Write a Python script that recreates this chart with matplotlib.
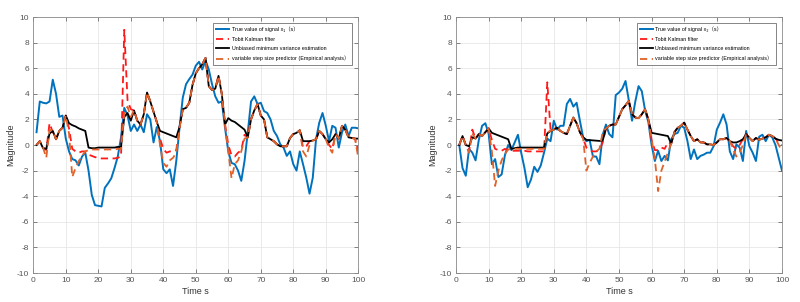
import matplotlib
matplotlib.use("Agg")
import matplotlib.pyplot as plt
import numpy as np

# signal x1 (left panel)
x1_true = [1.0, 3.4, 3.3, 3.25, 3.4, 5.1, 4.0, 2.2, 2.3, 0.5,
           -0.5, -1.1, -1.2, -1.6, -0.9, -0.6, -2.0, -3.9, -4.7, -4.75,
           -4.8, -3.35, -3.0, -2.6, -1.8, -0.9, 0.6, 2.9, 2.3, 1.1,
           1.6, 1.1, 1.6, 1.0, 2.4, 2.0, 0.2, 1.4, 0.3, -1.9,
           -2.2, -1.9, -3.2, -1.25, 1.35, 3.7, 4.75, 5.15, 5.5, 6.2,
           6.5, 5.9, 6.6, 5.9, 4.75, 3.8, 3.3, 3.4, 1.35, -0.5,
           -1.4, -1.5, -2.0, -2.8, -1.25, 1.0, 3.4, 3.8, 3.2, 3.3,
           2.65, 2.5, 2.0, 1.1, 0.7, 0.05, -0.2, -0.85, -0.5, -1.5,
           -2.0, -0.5, -1.5, -2.55, -3.8, -2.55, 0.45, 1.75, 2.5, 1.5,
           0.3, 1.5, 1.35, -0.2, 1.0, 1.6, 0.7, 1.35, 1.35, 1.3]
x1_tobit = [0.0, 0.3, -0.2, -0.4, 1.7, 1.0, 0.45, 1.1, 1.35, 2.3,
            1.3, -0.3, -0.5, -0.6, -0.5, -0.5, -0.75, -0.85, -0.95, -1.0,
            -1.05, -1.05, -1.05, -1.05, -1.05, -1.0, -0.9, 9.0, 3.5, 2.8,
            2.7, 1.9, 1.6, 2.4, 4.1, 3.4, 2.6, 1.8, 0.5, -0.3,
            -0.6, -0.5, -0.5, -0.4, 1.4, 2.8, 2.9, 3.3, 4.7, 5.6,
            6.0, 6.3, 6.8, 4.6, 4.3, 4.4, 5.4, 4.0, 1.6, 0.0,
            -0.8, -0.9, -0.6, -0.4, 0.8, 0.6, 2.0, 2.7, 3.2, 2.3,
            2.0, 0.6, 0.45, 0.3, 0.05, -0.1, -0.1, -0.1, 0.55, 0.85,
            0.95, 1.15, -0.2, -0.1, 0.3, 0.35, 0.45, 1.1, 0.85, 0.45,
            0.0, -0.3, 0.85, 0.5, 1.5, 1.2, 0.6, 0.55, 0.5, -0.5]
x1_umv = [0.0, 0.3, -0.25, -0.3, 0.9, 1.1, 0.45, 1.1, 1.35, 2.3,
          1.7, 1.55, 1.45, 1.3, 1.2, 1.1, -0.2, -0.25, -0.25, -0.2,
          -0.2, -0.2, -0.2, -0.2, -0.2, -0.15, -0.15, 2.2, 2.5, 1.9,
          2.7, 1.9, 1.6, 2.4, 4.1, 3.4, 2.6, 1.8, 1.1, 1.0,
          0.9, 0.8, 0.7, 0.6, 1.4, 2.8, 2.9, 3.3, 4.7, 5.6,
          6.0, 6.3, 6.8, 4.6, 4.3, 4.4, 5.4, 4.0, 1.6, 2.1,
          1.9, 1.8, 1.6, 1.4, 1.2, 0.6, 2.0, 2.7, 3.2, 2.3,
          2.0, 0.6, 0.45, 0.3, 0.05, -0.1, -0.1, -0.1, 0.55, 0.85,
          0.95, 1.15, 0.3, 0.3, 0.3, 0.35, 0.45, 1.1, 0.85, 0.45,
          0.2, 0.45, 0.85, 0.5, 1.5, 1.2, 0.6, 0.55, 0.5, 0.5]
x1_vss = [0.0, 0.3, -0.2, -1.0, 1.2, 1.1, 0.45, 1.1, 1.35, 2.3,
          0.9, -2.5, -1.8, -1.25, -0.85, -0.5, -0.4, -0.35, -0.35, -0.35,
          -0.35, -0.35, -0.35, -0.35, -0.35, -0.3, -0.3, 2.5, 3.0, 2.2,
          2.7, 1.9, 1.6, 2.4, 4.1, 3.4, 2.6, 1.8, 0.0, -1.4,
          -1.7, -1.2, -1.0, -0.6, 1.3, 2.8, 2.9, 3.3, 4.7, 5.6,
          6.0, 6.3, 6.8, 4.6, 4.3, 4.4, 5.4, 4.0, 1.6, -0.5,
          -2.6, -1.5, -1.2, -0.5, 0.5, 0.6, 2.0, 2.7, 3.2, 2.3,
          2.0, 0.6, 0.45, 0.3, 0.05, -0.1, -0.1, -0.1, 0.55, 0.85,
          0.95, 1.15, -0.5, -0.9, 0.0, 0.35, 0.45, 1.1, 0.85, 0.45,
          -0.2, -0.6, 0.85, 0.5, 1.5, 1.2, 0.6, 0.55, 0.5, -1.0]

# signal x2 (right panel)
x2_true = [0.0, -1.8, -2.4, -0.3, -0.6, -1.2, 0.4, 1.5, 1.7, 0.9,
           -1.5, -1.1, -2.5, -2.3, -0.8, 0.0, -0.4, 0.2, 0.8, -0.6,
           -1.8, -3.3, -2.7, -1.7, -2.1, -1.6, -0.6, 0.5, 0.3, 1.9,
           1.2, 1.5, 1.5, 3.2, 3.6, 3.0, 3.3, 1.9, 0.6, 0.3,
           0.4, -0.9, -0.9, -1.5, 0.8, 1.6, 0.85, 0.6, 3.9, 4.1,
           4.4, 5.0, 3.5, 1.9, 3.4, 4.6, 4.2, 2.7, 1.8, 0.0,
           -1.25, -0.45, -1.25, -0.85, -1.2, 0.45, 0.85, 0.95, 1.5, 1.35,
           0.3, -1.1, -0.35, -1.1, -0.85, -0.75, -0.6, -0.6, -0.1, 1.2,
           1.75, 2.4, 1.6, -0.5, -1.1, 0.05, -0.2, -1.25, 1.1, -0.1,
           -0.6, -1.25, 0.65, 0.8, 0.3, 0.8, 0.6, 0.0, -1.0, -2.0]
x2_tobit = [0.0, 0.7, 0.0, -0.5, 1.2, 0.5, 0.85, 0.7, 1.0, 1.3,
            0.4, -0.3, -0.4, -0.45, -0.3, -0.4, -0.45, -0.45, -0.45, -0.45,
            -0.45, -0.5, -0.5, -0.5, -0.5, -0.5, -0.5, 4.9, 1.2, 1.3,
            1.35, 1.1, 0.95, 0.85, 1.5, 2.15, 1.7, 1.0, 0.5, -0.2,
            -0.4, -0.5, -0.5, -0.4, 0.2, 1.3, 1.5, 1.6, 1.6, 2.2,
            2.8, 3.1, 3.45, 2.4, 2.15, 2.1, 2.4, 2.8, 2.0, 0.4,
            -0.4, -0.4, -0.2, -0.3, 0.2, 0.1, 1.0, 1.35, 1.5, 1.75,
            1.2, 0.7, 0.3, 0.45, 0.2, 0.2, 0.05, 0.05, 0.0, 0.2,
            0.45, 0.45, 0.55, 0.3, -0.1, -0.3, 0.0, 0.45, 0.85, 0.55,
            0.3, 0.55, 0.4, 0.5, 0.6, 0.8, 0.7, 0.5, 0.2, 0.0]
x2_umv = [0.0, 0.7, 0.0, -0.1, 0.6, 0.5, 0.85, 0.7, 1.0, 1.3,
          0.95, 0.85, 0.75, 0.65, 0.55, 0.45, -0.3, -0.25, -0.2, -0.2,
          -0.2, -0.2, -0.2, -0.2, -0.2, -0.2, -0.2, 0.9, 1.1, 1.2,
          1.35, 1.1, 0.95, 0.85, 1.5, 2.15, 1.7, 1.0, 0.6, 0.4,
          0.38, 0.36, 0.34, 0.32, 0.35, 1.3, 1.5, 1.6, 1.6, 2.2,
          2.8, 3.1, 3.45, 2.4, 2.15, 2.1, 2.4, 2.8, 2.0, 0.95,
          0.9, 0.85, 0.8, 0.75, 0.7, 0.1, 1.0, 1.35, 1.5, 1.75,
          1.2, 0.7, 0.3, 0.45, 0.2, 0.2, 0.05, 0.05, 0.0, 0.2,
          0.45, 0.45, 0.55, 0.3, 0.2, 0.2, 0.3, 0.45, 0.85, 0.55,
          0.3, 0.55, 0.4, 0.5, 0.6, 0.8, 0.7, 0.5, 0.4, 0.35]
x2_vss = [0.0, 0.7, 0.0, -0.6, 0.9, 0.5, 0.85, 0.7, 1.0, 1.3,
          -0.5, -3.2, -2.0, -1.2, -0.7, -0.35, -0.3, -0.3, -0.3, -0.3,
          -0.3, -0.3, -0.3, -0.3, -0.3, -0.3, -0.3, 1.0, 1.1, 1.2,
          1.35, 1.1, 0.95, 0.85, 1.5, 2.15, 1.7, 1.0, 0.5, -2.0,
          -1.4, -0.9, -0.5, -0.3, 1.0, 1.3, 1.5, 1.6, 1.6, 2.2,
          2.8, 3.1, 3.45, 2.4, 2.15, 2.1, 2.4, 2.8, 2.0, 0.5,
          -1.1, -3.6, -2.0, -1.3, -0.6, 0.1, 1.0, 1.35, 1.5, 1.75,
          1.2, 0.7, 0.3, 0.45, 0.2, 0.2, 0.05, 0.05, 0.0, 0.2,
          0.45, 0.45, 0.55, 0.3, -0.3, -0.9, -0.6, 0.0, 0.85, 0.55,
          0.3, 0.55, 0.4, 0.5, 0.6, 0.8, 0.7, 0.5, 0.0, -0.5]

labels_x1 = ['True value of signal x\u2081\uff08s\uff09', 'Tobit Kalman filter',
             'Unbiased minimum variance estimation',
             'variable step size predictor (Empirical analysis\uff09']
labels_x2 = ['True value of signal x\u2082\uff08s\uff09', 'Tobit Kalman filter',
             'Unbiased minimum variance estimation',
             'variable step size predictor (Empirical analysis\uff09']

plt.rcParams['font.family'] = ['Liberation Sans', 'Noto Sans CJK SC', 'DejaVu Sans']
plt.rcParams['axes.unicode_minus'] = False


def draw_panel(ax, true, tobit, umv, vss, labels):
    t = np.arange(1, len(true) + 1)
    ax.plot(t, true, color='#0072BD', lw=1.4, label=labels[0])
    ax.plot(t, tobit, color='#FF1A1A', lw=1.3, ls=(0, (4, 2.5)), label=labels[1])
    ax.plot(t, umv, color='black', lw=1.3, label=labels[2])
    ax.plot(t, vss, color='#E0622A', lw=1.3, ls=(0, (4, 2.5)), label=labels[3])
    ax.set_xlim(0, 100)
    ax.set_ylim(-10, 10)
    ax.set_xticks(np.arange(0, 101, 10))
    ax.set_yticks(np.arange(-10, 11, 2))
    ax.grid(True, color='#e6e6e6', lw=0.6)
    ax.set_axisbelow(True)
    ax.tick_params(direction='in', length=3, width=0.5, labelsize=6,
                   colors='#555555', top=True, right=True, pad=3)
    for s in ax.spines.values():
        s.set_color('#8c8c8c')
        s.set_linewidth(0.6)
    ax.set_xlabel('Time s', fontsize=6.5, color='#333333', labelpad=2)
    ax.set_ylabel('Magnitude', fontsize=6.5, color='#333333')
    ax.yaxis.set_label_coords(-0.056, 0.5)
    leg = ax.legend(loc='upper right', bbox_to_anchor=(0.982, 0.977),
                    borderaxespad=0, fontsize=3.9, fancybox=False, framealpha=1,
                    edgecolor='#555555', handlelength=2.4, labelspacing=0.85,
                    handletextpad=0.4, borderpad=0.65)
    leg.get_frame().set_linewidth(0.5)


fig = plt.figure(figsize=(8, 3.02), dpi=100)
ax1 = fig.add_axes([0.0416, 0.0960, 0.40625, 0.8477])
ax2 = fig.add_axes([0.5700, 0.0960, 0.4075, 0.8477])
draw_panel(ax1, x1_true, x1_tobit, x1_umv, x1_vss, labels_x1)
draw_panel(ax2, x2_true, x2_tobit, x2_umv, x2_vss, labels_x2)

fig.savefig('out.png', dpi=100)
